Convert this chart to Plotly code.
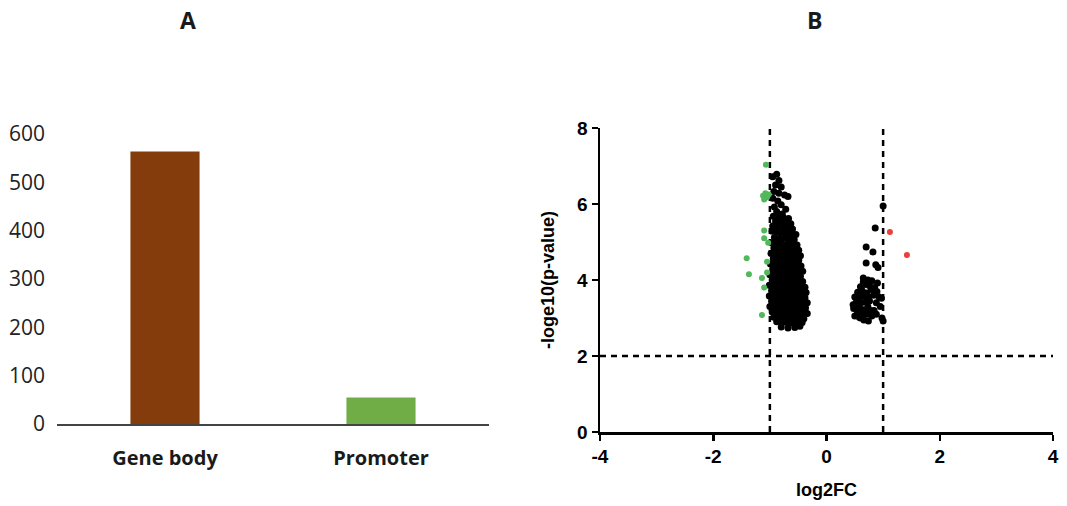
import plotly.graph_objects as go

W, H = 1067, 506

# ---------- Panel A data ----------
categories = ["Gene body", "Promoter"]
counts = [564, 55]
bar_colors = ["#843C0C", "#70AD47"]
a_ticks = [0, 100, 200, 300, 400, 500, 600]

# ---------- Panel B data ----------
left_x = [
    -0.95, -0.88, -0.84, -0.90, -0.80, -0.93, -0.84, -0.74, -0.68, -0.95, -0.86, -0.80, -0.92, -0.72, -0.88, -0.78,
    -0.94, -0.85, -0.76, -0.67, -0.90, -0.80, -0.71, -0.63, -0.95, -0.86, -0.77, -0.68, -0.60,
    -0.96, -0.88, -0.79, -0.70, -0.61, -0.54,
    -0.92, -0.83, -0.74, -0.65, -0.57,
    -0.97, -0.88, -0.79, -0.70, -0.61, -0.52,
    -0.93, -0.84, -0.75, -0.66, -0.57, -0.49,
    -0.98, -0.89, -0.80, -0.71, -0.62, -0.53, -0.46,
    -0.94, -0.85, -0.76, -0.67, -0.58, -0.49,
    -0.99, -0.90, -0.81, -0.72, -0.63, -0.54, -0.45,
    -0.95, -0.86, -0.77, -0.68, -0.59, -0.50, -0.42,
    -1.00, -0.91, -0.82, -0.73, -0.64, -0.55, -0.46,
    -0.96, -0.87, -0.78, -0.69, -0.60, -0.51, -0.42,
    -1.01, -0.92, -0.83, -0.74, -0.65, -0.56, -0.47, -0.38,
    -0.97, -0.88, -0.79, -0.70, -0.61, -0.52, -0.43, -0.36,
    -1.01, -0.92, -0.83, -0.74, -0.65, -0.56, -0.47, -0.38,
    -0.97, -0.88, -0.79, -0.70, -0.61, -0.52, -0.43, -0.34,
    -1.00, -0.91, -0.82, -0.73, -0.64, -0.55, -0.46, -0.37,
    -0.96, -0.87, -0.78, -0.69, -0.60, -0.51, -0.42, -0.34,
    -0.93, -0.84, -0.75, -0.66, -0.57, -0.48, -0.40,
    -0.88, -0.79, -0.70, -0.61, -0.52, -0.43,
    -0.80, -0.68, -0.56, -0.47,
]
left_y = [
    6.72, 6.78, 6.62, 6.50, 6.45, 6.33, 6.28, 6.24, 6.20, 6.15, 6.08, 5.98, 5.92, 5.86, 5.80, 5.74,
    5.68, 5.66, 5.64, 5.62, 5.55, 5.52, 5.50, 5.48, 5.42, 5.40, 5.38, 5.36, 5.34,
    5.28, 5.26, 5.25, 5.24, 5.22, 5.20,
    5.12, 5.10, 5.10, 5.08, 5.06,
    4.98, 4.97, 4.95, 4.94, 4.93, 4.92,
    4.84, 4.82, 4.82, 4.80, 4.80, 4.78,
    4.70, 4.69, 4.68, 4.67, 4.66, 4.65, 4.64,
    4.56, 4.55, 4.54, 4.53, 4.52, 4.51,
    4.42, 4.42, 4.41, 4.40, 4.39, 4.38, 4.37,
    4.28, 4.28, 4.27, 4.26, 4.25, 4.24, 4.23,
    4.14, 4.14, 4.13, 4.12, 4.12, 4.11, 4.10,
    4.00, 4.00, 3.99, 3.98, 3.98, 3.97, 3.96,
    3.86, 3.86, 3.85, 3.85, 3.84, 3.83, 3.82, 3.81,
    3.72, 3.72, 3.71, 3.70, 3.70, 3.69, 3.68, 3.67,
    3.58, 3.58, 3.57, 3.56, 3.56, 3.55, 3.54, 3.53,
    3.44, 3.44, 3.43, 3.42, 3.42, 3.41, 3.40, 3.40,
    3.30, 3.30, 3.29, 3.28, 3.28, 3.27, 3.26, 3.26,
    3.16, 3.16, 3.15, 3.14, 3.14, 3.13, 3.12, 3.12,
    3.02, 3.02, 3.01, 3.00, 3.00, 2.99, 2.98,
    2.90, 2.88, 2.88, 2.87, 2.86, 2.88,
    2.76, 2.74, 2.75, 2.78,
]
right_x = [
    0.50, 0.58, 0.66, 0.74, 0.55, 0.63, 0.71, 0.80, 0.48, 0.57, 0.65, 0.73, 0.84,
    0.52, 0.60, 0.68, 0.76, 0.88, 0.50, 0.58, 0.66, 0.74, 0.83, 0.93, 0.55, 0.63,
    0.71, 0.79, 0.89, 0.97, 0.60, 0.68, 0.76, 0.85, 0.65, 0.73, 0.80, 0.90, 0.95,
    0.60, 0.69, 0.78, 0.55, 0.98, 1.00, 0.88, 0.47, 0.62,
    0.65, 0.70, 0.87, 0.91, 0.70, 0.82, 0.86, 1.00,
]
right_y = [
    3.05, 3.02, 2.95, 2.92, 3.15, 3.12, 3.10, 3.05, 3.25, 3.28, 3.22, 3.30, 3.20,
    3.40, 3.38, 3.42, 3.45, 3.40, 3.55, 3.52, 3.58, 3.55, 3.60, 3.55, 3.68, 3.72,
    3.66, 3.75, 3.70, 3.52, 3.82, 3.88, 3.85, 3.80, 3.95, 4.00, 3.98, 3.92, 3.30,
    3.00, 3.18, 3.20, 3.45, 3.00, 2.92, 3.10, 3.35, 3.60,
    4.05, 4.45, 4.40, 4.33, 4.87, 4.74, 5.37, 5.95,
]
down_x = [-1.07, -1.12, -1.08, -1.05, -1.10, -1.02, -1.10, -1.10, -1.03, -1.41, -1.05, -1.37, -1.05, -1.14, -1.10, -1.14]
down_y = [7.03, 6.22, 6.28, 6.18, 6.12, 6.25, 5.30, 5.10, 4.98, 4.57, 4.48, 4.15, 4.20, 4.05, 3.80, 3.08]
up_x = [1.12, 1.42]
up_y = [5.26, 4.66]
fc_cut = [-1, 1]
p_cut = 2
b_ticks = [-4, -2, 0, 2, 4]
b_ticktext = ["-4", "-2", "0", "2", "4"]
b_yticks = [0, 2, 4, 6, 8]

fig = go.Figure()

# Panel A
fig.add_trace(go.Bar(x=categories, y=counts, marker=dict(color=bar_colors, line=dict(width=0)),
                     width=0.32, xaxis="x", yaxis="y", showlegend=False))

# Panel B
fig.add_trace(go.Scatter(x=left_x + right_x, y=left_y + right_y, mode="markers",
                         marker=dict(color="black", size=7, line=dict(width=0)),
                         xaxis="x2", yaxis="y2", showlegend=False))
fig.add_trace(go.Scatter(x=down_x, y=down_y, mode="markers",
                         marker=dict(color="#52B85C", size=6, line=dict(width=0)),
                         xaxis="x2", yaxis="y2", showlegend=False))
fig.add_trace(go.Scatter(x=up_x, y=up_y, mode="markers",
                         marker=dict(color="#E8403A", size=6, line=dict(width=0)),
                         xaxis="x2", yaxis="y2", showlegend=False))

dash_line = dict(color="black", width=2.5, dash="6px,5px")
for c in fc_cut:
    fig.add_shape(type="line", xref="x2", yref="y2", x0=c, x1=c, y0=0, y1=8, line=dash_line, layer="below")
fig.add_shape(type="line", xref="x2", yref="y2", x0=-4, x1=4, y0=p_cut, y1=p_cut, line=dash_line, layer="below")

def px_x(p):
    return p / W

def px_y(p):
    return (H - p) / H

fig.update_layout(
    template="none",
    width=W, height=H, autosize=False,
    margin=dict(l=0, r=0, t=0, b=0, pad=0, autoexpand=False),
    paper_bgcolor="white", plot_bgcolor="white",
    xaxis=dict(domain=[px_x(57), px_x(489)], showline=True, linecolor="#444444", linewidth=1.5,
               ticks="", showgrid=False, zeroline=False, automargin=False,
               tickfont=dict(family="Open Sans", size=20, color="#1a1a1a", weight="bold"),
               ticklabelstandoff=15, fixedrange=True),
    yaxis=dict(domain=[px_y(424), px_y(134)], range=[0, 600], tickvals=a_ticks,
               showline=False, showgrid=False, zeroline=False, ticks="", automargin=False,
               tickfont=dict(family="Open Sans", size=21, color="#222222"),
               ticklabelstandoff=11, fixedrange=True),
    xaxis2=dict(domain=[px_x(600), px_x(1053)], range=[-4, 4], tickvals=b_ticks, ticktext=b_ticktext,
                showline=True, linecolor="black", linewidth=2.5, ticks="outside", ticklen=6,
                tickwidth=2.5, tickcolor="black", showgrid=False, zeroline=False, automargin=False,
                tickfont=dict(family="Liberation Sans", size=19, color="black", weight="bold"),
                anchor="y2", fixedrange=True),
    yaxis2=dict(domain=[px_y(432), px_y(128)], range=[0, 8], tickvals=b_yticks,
                showline=True, linecolor="black", linewidth=2.5, ticks="outside", ticklen=6,
                tickwidth=2.5, tickcolor="black", showgrid=False, zeroline=False, automargin=False,
                tickfont=dict(family="Liberation Sans", size=19, color="black", weight="bold"),
                anchor="x2", fixedrange=True),
    annotations=[
        dict(text="<b>A</b>", x=px_x(188), y=px_y(20), xref="paper", yref="paper", showarrow=False,
             xanchor="center", yanchor="middle",
             font=dict(family="Open Sans", size=23, color="#1a1a1a")),
        dict(text="<b>B</b>", x=px_x(814), y=px_y(20), xref="paper", yref="paper", showarrow=False,
             xanchor="center", yanchor="middle",
             font=dict(family="Open Sans", size=23, color="#1a1a1a")),
        dict(text="<b>log2FC</b>", x=px_x(826), y=px_y(490), xref="paper", yref="paper", showarrow=False,
             xanchor="center", yanchor="middle",
             font=dict(family="Liberation Sans", size=18, color="black")),
        dict(text="<b>-loge10(p-value)</b>", x=px_x(548), y=px_y(280), xref="paper", yref="paper",
             showarrow=False, textangle=-90, xanchor="center", yanchor="middle",
             font=dict(family="Liberation Sans", size=18, color="black")),
    ],
)

# remove the browser's default 8px body margin so the figure fills the window exactly
fig.write_html("out.html", config={"displayModeBar": False, "staticPlot": True},
               post_script="document.body.style.margin='0px';")
